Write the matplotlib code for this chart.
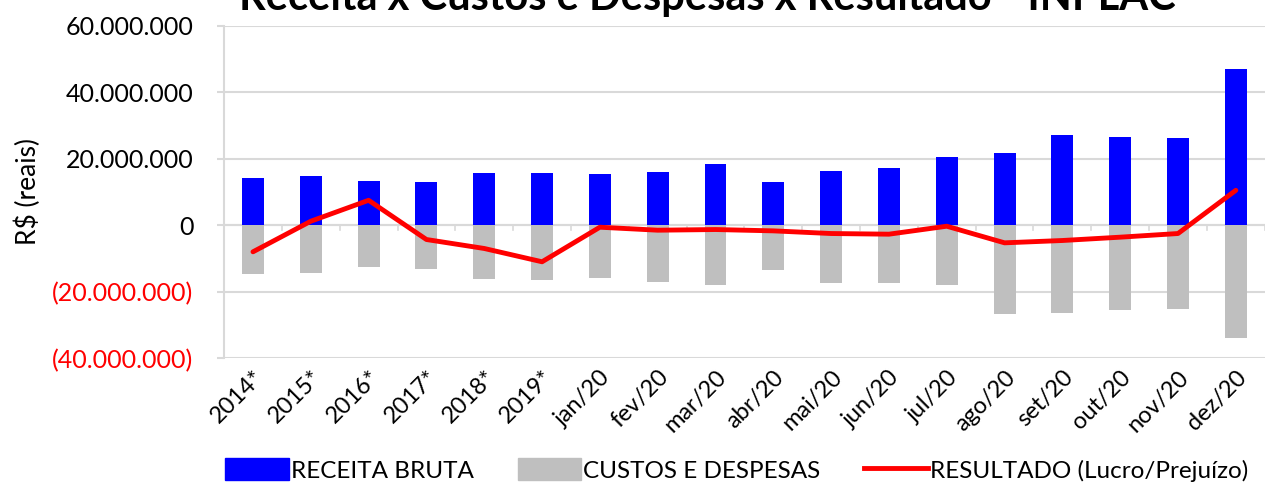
import numpy as np
import matplotlib.pyplot as plt
from matplotlib.patches import Patch
from matplotlib.lines import Line2D
from matplotlib.ticker import FuncFormatter

plt.rcParams['font.family'] = ['Lato', 'DejaVu Sans']

periodos = ['2014*', '2015*', '2016*', '2017*', '2018*', '2019*',
            'jan/20', 'fev/20', 'mar/20', 'abr/20', 'mai/20', 'jun/20',
            'jul/20', 'ago/20', 'set/20', 'out/20', 'nov/20', 'dez/20']

# valores em R$
receita = [14.3e6, 14.7e6, 13.3e6, 12.9e6, 15.6e6, 15.6e6,
           15.4e6, 15.9e6, 18.3e6, 13.0e6, 16.4e6, 17.1e6,
           20.4e6, 21.6e6, 27.1e6, 26.6e6, 26.1e6, 47.1e6]
custos = [-14.8e6, -14.4e6, -12.6e6, -13.2e6, -16.2e6, -16.4e6,
          -16.0e6, -17.0e6, -18.0e6, -13.4e6, -17.3e6, -17.4e6,
          -18.0e6, -26.8e6, -26.3e6, -25.6e6, -25.1e6, -34.0e6]
resultado = [-8.0e6, 1.2e6, 7.5e6, -4.3e6, -7.0e6, -11.0e6,
             -0.6e6, -1.5e6, -1.3e6, -1.7e6, -2.5e6, -2.7e6,
             -0.3e6, -5.3e6, -4.6e6, -3.6e6, -2.5e6, 10.5e6]

x = np.arange(len(periodos))

fig = plt.figure(figsize=(12.66, 4.86), dpi=100)
ax = fig.add_axes([0.177, 0.263, 0.822, 0.684])

ax.bar(x, receita, width=0.38, color='#0000ff', zorder=2)
ax.bar(x, custos, width=0.38, color='#bfbfbf', zorder=2)
ax.plot(x, resultado, color='#ff0000', lw=3.5, solid_capstyle='round', zorder=3)

ax.set_xlim(-0.5, len(periodos) - 0.5)
ax.set_ylim(-40e6, 60e6)
ax.set_yticks(np.arange(-40e6, 60e6 + 1, 20e6))


def fmt(v, pos):
    s = '{:,.0f}'.format(abs(v)).replace(',', '.')
    return '({})'.format(s) if v < 0 else s


ax.yaxis.set_major_formatter(FuncFormatter(fmt))
ax.grid(axis='y', color='#d9d9d9', lw=1.5, zorder=0)
ax.tick_params(axis='y', length=5, width=1.5, color='#d9d9d9', labelsize=18, pad=17)
for lbl in ax.get_yticklabels():
    if lbl.get_text().startswith('('):
        lbl.set_color('#ff0000')

for s in ['top', 'right', 'bottom']:
    ax.spines[s].set_visible(False)
ax.spines['left'].set_color('#d9d9d9')
ax.spines['left'].set_linewidth(1.5)

# linha do zero com marcas entre categorias
ax.axhline(0, color='#d9d9d9', lw=1.5, zorder=1)
for b in np.arange(-0.5, len(periodos), 1.0):
    ax.plot([b, b], [0, -1.3e6], color='#d9d9d9', lw=1.2, zorder=1)

ax.set_xticks(x)
ax.set_xticklabels(periodos, rotation=45, ha='right', rotation_mode='anchor', fontsize=17)
ax.tick_params(axis='x', length=0, pad=6)

ax.set_ylabel('R$ (reais)', fontsize=19, labelpad=8)

fig.text(0.559, 0.979, 'Receita x Custos e Despesas x Resultado - INPLAC',
         ha='center', va='baseline', fontsize=30, fontweight='bold')

handles = [Patch(color='#0000ff'), Patch(color='#bfbfbf'),
           Line2D([0], [0], color='#ff0000', lw=3.5)]
labels = ['RECEITA BRUTA', 'CUSTOS E DESPESAS', 'RESULTADO (Lucro/Prejuízo)']
fig.legend(handles, labels, loc='center', bbox_to_anchor=(0.582, 0.033), ncol=3,
           frameon=False, fontsize=17.5, handlelength=2.6, handleheight=1.0,
           handletextpad=0.1, columnspacing=1.8)

fig.savefig('out.png', dpi=100)
